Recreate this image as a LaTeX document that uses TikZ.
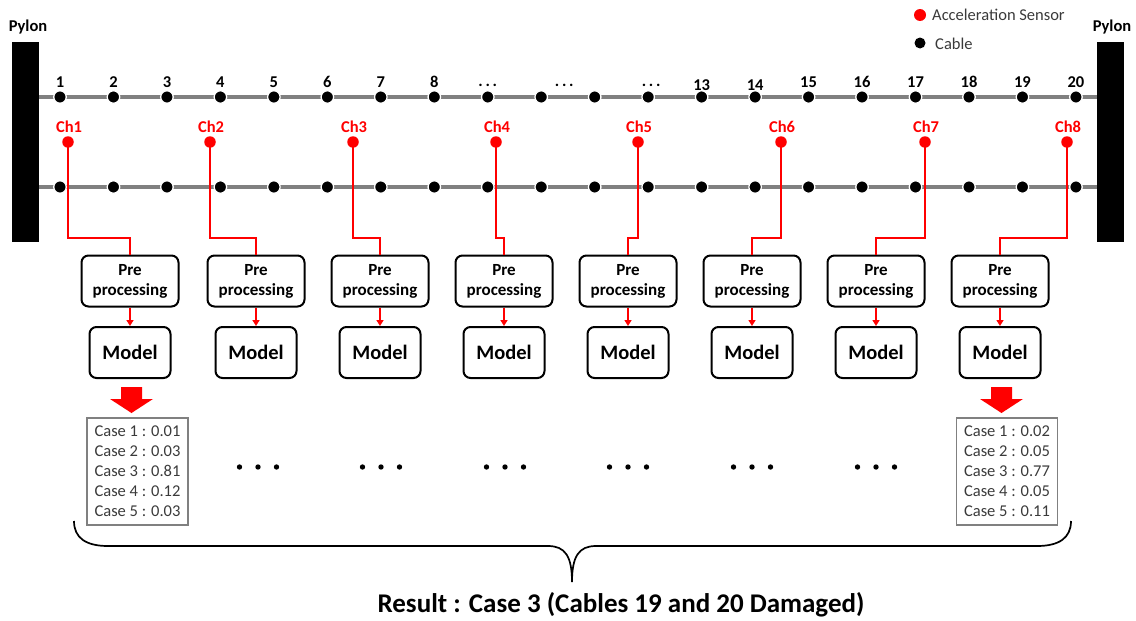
\documentclass[tikz,border=0pt]{standalone}
\usepackage{fontspec}
\setmainfont{Carlito}
\usetikzlibrary{arrows.meta,calc}
\definecolor{cablegray}{HTML}{808080}
\definecolor{txtgray}{HTML}{3A3A3A}
\begin{document}
\begin{tikzpicture}[x=1pt,y=-1pt,
  pylon/.style={fill=black, inner sep=0, minimum width=27, minimum height=200},
  pylonlbl/.style={font=\bfseries\fontsize{16.5}{18}\selectfont, inner sep=0},
  cable/.style={draw=cablegray, line width=4.5},
  cabledot/.style={circle, fill=black, draw=white, line width=1.3, inner sep=0, minimum size=12.5},
  numlbl/.style={font=\bfseries\fontsize{16.5}{18}\selectfont, inner sep=0},
  sensor/.style={circle, fill=red, inner sep=0, minimum size=11.5},
  chlbl/.style={font=\bfseries\fontsize{16.5}{18}\selectfont, text=red, inner sep=0},
  wire/.style={draw=red, line width=2},
  prebox/.style={draw, rounded corners=7, line width=2, minimum width=97, minimum height=51, inner sep=0, align=center, font=\bfseries\fontsize{17}{20}\selectfont},
  modelbox/.style={draw, rounded corners=7, line width=2, minimum width=81, minimum height=51, inner sep=0, font=\bfseries\fontsize{20.5}{24}\selectfont},
  casebox/.style={draw=gray, line width=1.2, minimum width=101, minimum height=107, inner sep=0, align=left, text=txtgray, font=\fontsize{16.5}{20}\selectfont},
  legtxt/.style={font=\fontsize{16.5}{18}\selectfont, text=txtgray, anchor=west, inner sep=0},
  bigarrow/.style={fill=red},
  edot/.style={fill=black}
]
\useasboundingbox (0,0) rectangle (1136,621);

% pylons
\node[pylon] (pl) at (25.5,142) {};
\node[pylon] (pr) at (1110.5,142) {};
\node[pylonlbl] (pll) at (28,27) {Pylon};
\node[pylonlbl] (prl) at (1112,27) {Pylon};

% cable dots
\foreach \i in {1,...,20}{
  \coordinate (ct\i) at ({60+(\i-1)*53.47},97);
  \coordinate (cb\i) at ({60+(\i-1)*53.47},187);
}
\draw[cable] (pl.east |- ct1) -- (pr.west |- ct1);
\draw[cable] (pl.east |- cb1) -- (pr.west |- cb1);
\foreach \i in {1,...,20}{
  \node[cabledot] (t\i) at (ct\i) {};
  \node[cabledot] (b\i) at (cb\i) {};
}
% number labels
\foreach \i in {1,...,8}{
  \node[numlbl] (n\i) at ($(t\i)+(0,-15)$) {\i};
}
\foreach \i in {13,14}{
  \node[numlbl] (n\i) at ($(t\i)+(0,-12)$) {\i};
}
\foreach \i in {15,...,20}{
  \node[numlbl] (n\i) at ($(t\i)+(0,-15)$) {\i};
}
\node[numlbl] (n9) at ($(t9)+(0,-12)$) {.\,.\,.};
\node[numlbl] (n10) at ($(t10)!0.43!(t11)+(0,-12)$) {.\,.\,.};
\node[numlbl] (n12) at ($(t12)+(3,-12)$) {.\,.\,.};

% sensors, boxes
\foreach \i/\sx/\bx in {1/68/130, 2/210/256, 3/353/380, 4/496/504, 5/638/628, 6/781/752, 7/925/876, 8/1067/1000}{
  \node[sensor] (s\i) at (\sx,142) {};
  \node[chlbl] (ch\i) at (\sx+1,127) {Ch\i};
  \node[prebox] (p\i) at (\bx,281) {Pre\\processing};
  \node[modelbox] (m\i) at (\bx,352.5) {Model};
  \coordinate (k\i) at ($(p\i.north)+(0,-17)$);
  \draw[wire] (s\i.center) |- (k\i) -- (p\i.north);
  \draw[wire, line width=1.6, -{Triangle[length=6,width=7]}] (p\i.south) -- (m\i.north);
}

% block arrows
\foreach \i in {1,8}{
  \coordinate (ba\i) at ($(m\i.south)+(1.5,8)$);
  \fill[bigarrow] ($(ba\i)+(-10.5,0)$) -- ($(ba\i)+(10.5,0)$) -- ($(ba\i)+(10.5,12)$) -- ($(ba\i)+(21.5,12)$) -- ($(ba\i)+(0,26)$) -- ($(ba\i)+(-21.5,12)$) -- ($(ba\i)+(-10.5,12)$) -- cycle;
}

% case boxes
\node[casebox] (r1) at (137.5,471.5) {Case 1 : 0.01\\Case 2 : 0.03\\Case 3 : 0.81\\Case 4 : 0.12\\Case 5 : 0.03};
\node[casebox] (r8) at (1007,471.5) {Case 1 : 0.02\\Case 2 : 0.05\\Case 3 : 0.77\\Case 4 : 0.05\\Case 5 : 0.11};

% ellipsis dots
\foreach \g in {258,381,505,628,752,876}{
  \foreach \d in {-18.5,0,18.5}{
    \fill[edot] (\g+\d,467) circle (2.7);
  }
}

% brace
\coordinate (brl) at (74,521);
\coordinate (brr) at (1071,521);
\coordinate (brt) at (572,582);
\draw[line width=1.7] (brl) .. controls (74,538) and (86,546) .. (108,546) -- (548,546)
  .. controls (565,546) and (572,556) .. (brt)
  .. controls (572,556) and (579,546) .. (596,546) -- (1037,546)
  .. controls (1059,546) and (1071,538) .. (brr);

\node[font=\bfseries\fontsize{27}{30}\selectfont, inner sep=0] (res) at (621,605) {Result : Case 3 (Cables 19 and 20 Damaged)};

% legend
\node[sensor, minimum size=12] (lg1) at (920,15) {};
\node[legtxt] (lgt1) at (932,15) {Acceleration Sensor};
\node[circle, fill=black, inner sep=0, minimum size=11] (lg2) at (920,43) {};
\node[legtxt] (lgt2) at (935,44) {Cable};
\end{tikzpicture}
\end{document}
